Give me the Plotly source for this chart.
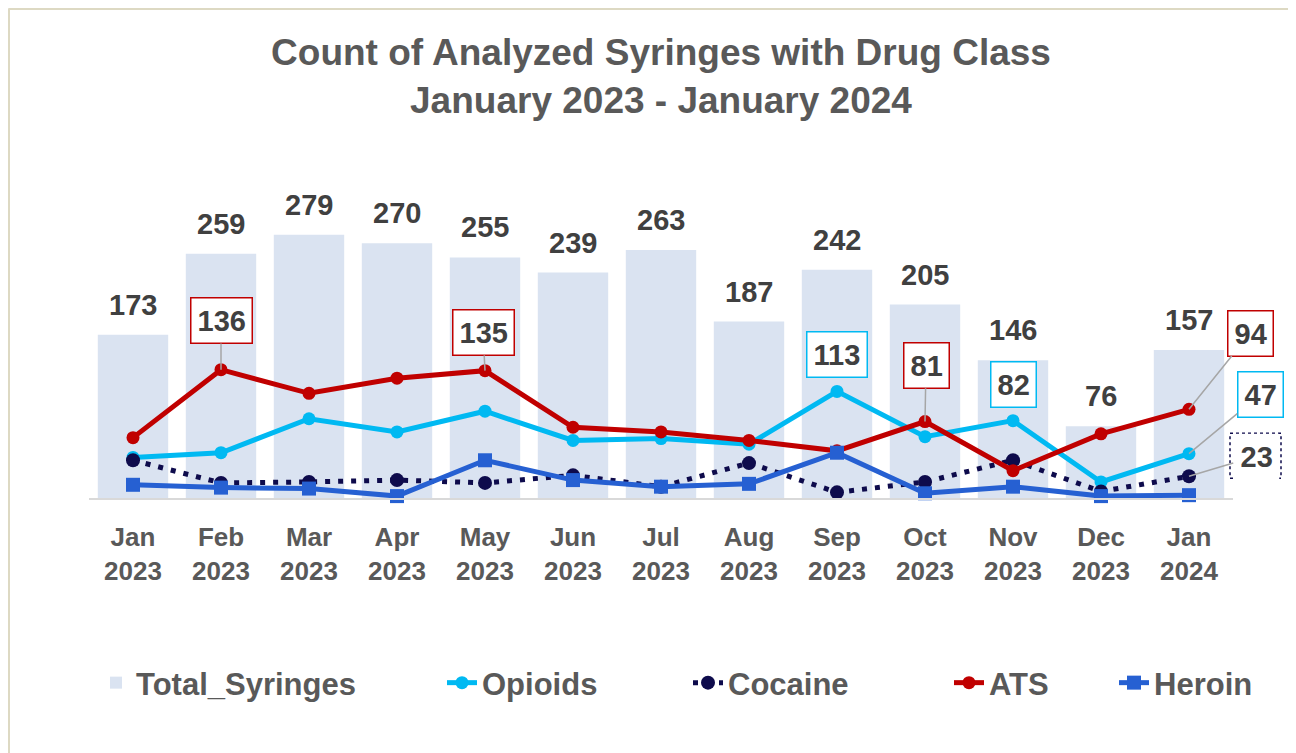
import plotly.graph_objects as go

months = ["Jan<br>2023", "Feb<br>2023", "Mar<br>2023", "Apr<br>2023", "May<br>2023", "Jun<br>2023",
          "Jul<br>2023", "Aug<br>2023", "Sep<br>2023", "Oct<br>2023", "Nov<br>2023", "Dec<br>2023", "Jan<br>2024"]
total_syringes = [173, 259, 279, 270, 255, 239, 263, 187, 242, 205, 146, 76, 157]
opioids = [43, 48, 84, 70, 92, 61, 63, 57, 113, 65, 82, 17, 47]
cocaine = [40, 16, 17, 19, 16, 24, 12, 37, 6, 17, 40, 7, 23]
ats = [64, 136, 111, 127, 135, 75, 70, 61, 50, 81, 29, 68, 94]
heroin = [14, 11, 10, 2, 40, 19, 12, 15, 48, 5, 12, 2, 3]

xs = list(range(len(months)))
Y_MAX = 300

FONT = "Liberation Sans"
GREY = "#595959"
DARK = "#404040"
C_BAR = "#DAE3F1"
C_OPI = "#00B9F2"
C_COC = "#0E0B4C"
C_ATS = "#C00000"
C_HER = "#2660D2"

W, H = 1288, 745
ML, MR, MT, MB = 81, 63, 207, 255
PW = W - ML - MR
PH = H - MT - MB

def px_to_paper_x(page_x):
    return (page_x - 8 - ML) / PW

def px_to_paper_y(page_y):
    return (MT + PH - (page_y - 8)) / PH

fig = go.Figure()
fig.add_trace(go.Bar(x=xs, y=total_syringes, name="Total_Syringes", marker_color=C_BAR,
                     width=0.8, marker_line_width=0, legend="legend"))
fig.add_trace(go.Scatter(x=xs, y=opioids, name="Opioids", mode="lines+markers",
                         line=dict(color=C_OPI, width=5), marker=dict(size=13, color=C_OPI),
                         cliponaxis=False, legend="legend2"))
fig.add_trace(go.Scatter(x=xs, y=cocaine, name="Cocaine", mode="lines+markers",
                         line=dict(color=C_COC, width=5, dash="5px,8px"),
                         marker=dict(size=14, color=C_COC), cliponaxis=False, legend="legend3"))
fig.add_trace(go.Scatter(x=xs, y=ats, name="ATS", mode="lines+markers",
                         line=dict(color=C_ATS, width=5), marker=dict(size=13, color=C_ATS),
                         cliponaxis=False, legend="legend4"))
fig.add_trace(go.Scatter(x=xs, y=heroin, name="Heroin", mode="lines+markers",
                         line=dict(color=C_HER, width=5),
                         marker=dict(size=14, color=C_HER, symbol="square"), cliponaxis=False,
                         legend="legend5"))

LBL_FONT = dict(family=FONT, size=29, color=DARK, weight="bold")
annotations = []
for i, v in enumerate(total_syringes):
    annotations.append(dict(x=xs[i], y=v, text=str(v), showarrow=False, yshift=30, font=LBL_FONT))

callouts = [
    (ats, 1, C_ATS, 0, -49, True),
    (ats, 4, C_ATS, -2, -38, True),
    (ats, 9, C_ATS, 1, -56, True),
    (ats, 12, C_ATS, 61, -76, True),
    (opioids, 8, C_OPI, 0, -37, False),
    (opioids, 10, C_OPI, 0, -36, False),
    (opioids, 12, C_OPI, 71, -59, True),
]
for series, i, col, ax, ay, line in callouts:
    annotations.append(dict(x=xs[i], y=series[i], text=str(series[i]), showarrow=True,
                            arrowhead=0, arrowwidth=1.5,
                            arrowcolor="#A6A6A6" if line else "rgba(0,0,0,0)",
                            ax=ax, ay=ay, standoff=0,
                            bordercolor=col, borderwidth=1.5, borderpad=6, bgcolor="white",
                            font=LBL_FONT))
annotations.append(dict(x=xs[12], y=cocaine[12], text=str(cocaine[12]), showarrow=True,
                        arrowhead=0, arrowwidth=1.5, arrowcolor="#A6A6A6", ax=67, ay=-20,
                        standoff=0, bgcolor="white", borderpad=6, borderwidth=1.5,
                        bordercolor="rgba(0,0,0,0)", font=LBL_FONT))

n = len(xs)
shapes = [
    dict(type="rect", xref="paper", yref="paper", xsizemode="pixel", ysizemode="pixel",
         xanchor=(xs[12] + 0.5) / n, yanchor=cocaine[12] / Y_MAX, x0=41, x1=92, y0=-2, y1=43,
         line=dict(color=C_COC, width=1.5, dash="dot"), fillcolor="rgba(0,0,0,0)"),
    dict(type="line", xref="paper", yref="paper",
         x0=(0.5 - ML) / PW, x1=1.1, y0=(MT + PH - 0.5) / PH, y1=(MT + PH - 0.5) / PH,
         line=dict(color="#DDD9C3", width=3), layer="below"),
    dict(type="line", xref="paper", yref="paper",
         x0=(0.5 - ML) / PW, x1=(0.5 - ML) / PW, y0=(MT + PH - 0.5) / PH, y1=-1.0,
         line=dict(color="#DDD9C3", width=3), layer="below"),
]

LEG_FONT = dict(family=FONT, size=31, color=GREY, weight="bold")
leg_y = px_to_paper_y(683)
def leg(page_x):
    return dict(orientation="h", x=px_to_paper_x(page_x), xanchor="left", y=leg_y,
                yanchor="middle", font=LEG_FONT, bgcolor="rgba(0,0,0,0)")

fig.update_layout(
    width=W, height=H,
    margin=dict(l=ML, r=MR, t=MT, b=MB),
    paper_bgcolor="white", plot_bgcolor="white",
    title=dict(text="Count of Analyzed Syringes with Drug Class<br>January 2023 - January 2024",
               x=0.5, xref="paper", y=1 - 57 / H, yref="container", yanchor="middle",
               font=dict(family=FONT, size=37, color=GREY, weight="bold")),
    xaxis=dict(range=[-0.5, 12.5], tickvals=xs, ticktext=months, showgrid=False,
               showline=True, linecolor="#D9D9D9", linewidth=2, ticks="", zeroline=False,
               ticklabelstandoff=15,
               tickfont=dict(family=FONT, size=26, color=GREY, weight="bold")),
    yaxis=dict(range=[0, Y_MAX], visible=False, showgrid=False, zeroline=False),
    showlegend=True,
    legend=leg(96),
    legend2=leg(442),
    legend3=leg(688),
    legend4=leg(949),
    legend5=leg(1114),
    annotations=annotations, shapes=shapes,
    bargap=0.2,
)

fig.write_html("out.html")
